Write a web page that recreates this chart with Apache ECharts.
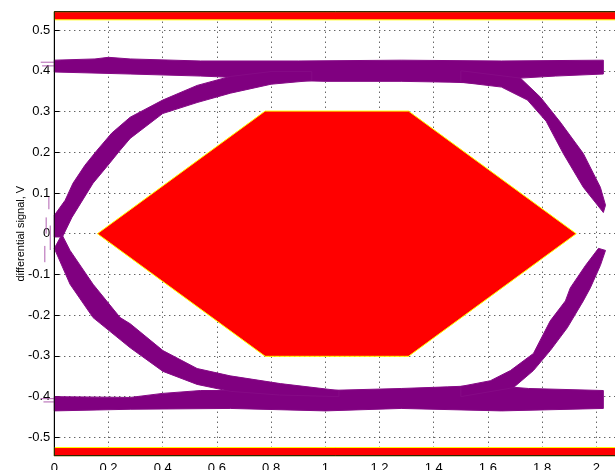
<!DOCTYPE html>
<html>
<head>
<meta charset="utf-8">
<script src="https://cdn.jsdelivr.net/npm/echarts@6/dist/echarts.min.js"></script>
<style>
  html, body { margin: 0; padding: 0; background: #ffffff; }
  #chart { width: 615px; height: 470px; }
</style>
</head>
<body>
<div id="chart"></div>
<script>
// Axis extents
const timeRange = [0, 2.1];
const voltRange = [-0.545, 0.545];

// Eye mask: hexagon in the centre, forbidden bands above/below
const maskLimit = 0.525;
const maskHex = [[0.159, 0], [0.778, 0.301], [1.307, 0.301], [1.926, 0], [1.307, -0.301], [0.778, -0.301]];

// Outlines of the superimposed signal traces (upper edge, then lower edge back)
const highRail = [
  [0, 0.426], [0.15, 0.429], [0.2, 0.433], [0.28, 0.429], [0.54, 0.424], [0.9, 0.424],
  [1.28, 0.426], [1.65, 0.424], [2.026, 0.426],
  [2.026, 0.392], [1.85, 0.387], [1.72, 0.382], [1.6, 0.369], [1.46, 0.372], [1.28, 0.374],
  [1.0, 0.374], [0.83, 0.377], [0.65, 0.384], [0.54, 0.387], [0.28, 0.392], [0, 0.397]
];
const lowRail = [
  [0, -0.400], [0.28, -0.402], [0.40, -0.392], [0.54, -0.385], [1.0, -0.385], [1.28, -0.380],
  [1.45, -0.376], [1.6, -0.372], [1.75, -0.380], [2.026, -0.385],
  [2.026, -0.429], [1.65, -0.435], [1.28, -0.429], [1.0, -0.435], [0.65, -0.429],
  [0.28, -0.431], [0, -0.435]
];
const riseLeft = [
  [0, 0.045], [0.04, 0.082], [0.069, 0.124], [0.113, 0.168], [0.158, 0.205], [0.212, 0.247],
  [0.28, 0.286], [0.40, 0.328], [0.527, 0.364], [0.649, 0.386], [0.80, 0.398], [0.95, 0.398],
  [0.95, 0.376], [0.80, 0.367], [0.65, 0.345], [0.527, 0.322], [0.40, 0.295], [0.28, 0.234],
  [0.243, 0.205], [0.198, 0.168], [0.143, 0.124], [0.065, 0.040], [0.03, -0.008], [0, -0.008]
];
const fallLeft = [
  [0.028, -0.002], [0.058, -0.041], [0.143, -0.124], [0.243, -0.206], [0.28, -0.221],
  [0.401, -0.287], [0.527, -0.331], [0.649, -0.349], [0.834, -0.368], [1.05, -0.385],
  [1.05, -0.400], [0.83, -0.396], [0.649, -0.387], [0.527, -0.370], [0.401, -0.338],
  [0.28, -0.280], [0.143, -0.206], [0.058, -0.124], [0, -0.036]
];
const fallRight = [
  [1.50, 0.400], [1.72, 0.382], [1.794, 0.335], [1.867, 0.274], [1.952, 0.197],
  [2.015, 0.114], [2.034, 0.07],
  [2.026, 0.052], [1.952, 0.114], [1.878, 0.197], [1.815, 0.276], [1.746, 0.328],
  [1.65, 0.360], [1.50, 0.372]
];
const riseRight = [
  [1.50, -0.400], [1.694, -0.378], [1.768, -0.336], [1.83, -0.287], [1.893, -0.231],
  [1.952, -0.165], [1.978, -0.133], [2.015, -0.078], [2.034, -0.041],
  [2.008, -0.036], [1.96, -0.078], [1.904, -0.133], [1.886, -0.165], [1.83, -0.214],
  [1.768, -0.294], [1.683, -0.336], [1.609, -0.361], [1.50, -0.375]
];
const traceBands = [highRail, lowRail, riseLeft, fallLeft, fallRight, riseRight];

// Short trace fragments spilling past the left edge of the axes
const strayTraces = [
  [[-0.05, 0.421], [0, 0.421]],
  [[-0.045, 0.412], [0, 0.412]],
  [[-0.05, -0.405], [0, -0.405]],
  [[-0.04, -0.413], [0, -0.413]],
  [[-0.02, 0.09], [-0.02, 0.06]],
  [[-0.03, 0.04], [-0.03, 0.0]],
  [[-0.035, -0.03], [-0.035, -0.07]],
  [[-0.015, 0.02], [-0.015, -0.04]]
];

const FONT = '"Liberation Sans", Arial, sans-serif';
const chart = echarts.init(document.getElementById('chart'), null, { renderer: 'canvas' });

const dotted = { color: '#222', width: 1, type: [1, 4] };

chart.setOption({
  animation: false,
  backgroundColor: '#ffffff',
  grid: { left: 54.3, top: 11.7, bottom: 14.3, right: -8.4, outerBoundsMode: 'none', containLabel: false },
  xAxis: {
    type: 'value',
    min: timeRange[0], max: timeRange[1], interval: 0.2,
    axisLine: { show: true, onZero: false, lineStyle: { color: '#000', width: 1 } },
    axisTick: { show: true, inside: true, length: 5, lineStyle: { color: '#000' } },
    axisLabel: { color: '#000', fontSize: 13, fontFamily: FONT, margin: 6, showMaxLabel: false },
    splitLine: { show: true, lineStyle: dotted }
  },
  yAxis: {
    type: 'value',
    min: voltRange[0], max: voltRange[1], splitNumber: 10,
    name: 'differential signal, V',
    nameLocation: 'middle', nameGap: 28, nameMoveOverlap: false,
    nameTextStyle: { color: '#000', fontSize: 11, fontFamily: FONT },
    axisLine: { show: true, onZero: false, lineStyle: { color: '#000', width: 1 } },
    axisTick: { show: true, inside: true, length: 5, lineStyle: { color: '#000' } },
    axisLabel: { color: '#000', fontSize: 13, fontFamily: FONT, margin: 4,
                 showMinLabel: false, showMaxLabel: false },
    splitLine: { show: true, lineStyle: dotted }
  },
  series: [
    {
      // superimposed traces
      type: 'custom', silent: true, z: 3,
      data: traceBands.map((b, i) => [b[0][0], b[0][1], i]),
      renderItem: (params, api) => {
        const band = traceBands[params.dataIndex];
        return {
          type: 'polygon',
          shape: { points: band.map(p => api.coord(p)) },
          style: { fill: '#800080', stroke: '#860a86', lineWidth: 1 }
        };
      }
    },
    {
      type: 'custom', silent: true, z: 3, clip: false,
      data: strayTraces.map((s, i) => [s[0][0], s[0][1], i]),
      renderItem: (params, api) => {
        const s = strayTraces[params.dataIndex];
        return {
          type: 'polyline',
          shape: { points: s.map(p => api.coord(p)) },
          style: { stroke: '#b060b0', lineWidth: 1, fill: null }
        };
      }
    },
    {
      // eye mask
      type: 'custom', silent: true, z: 4,
      data: [[0, 0, 0], [0, 0, 1], [0, 0, 2]],
      renderItem: (params, api) => {
        let pts;
        if (params.dataIndex === 0) pts = maskHex;
        else if (params.dataIndex === 1)
          pts = [[timeRange[0], maskLimit], [timeRange[1], maskLimit], [timeRange[1], voltRange[1]], [timeRange[0], voltRange[1]]];
        else
          pts = [[timeRange[0], -maskLimit], [timeRange[1], -maskLimit], [timeRange[1], voltRange[0]], [timeRange[0], voltRange[0]]];
        return {
          type: 'polygon',
          shape: { points: pts.map(p => api.coord(p)) },
          style: { fill: '#ff0000', stroke: '#ffff00', lineWidth: 1 }
        };
      }
    },
    {
      // axes box drawn over the mask
      type: 'custom', silent: true, z: 10,
      data: [[0, 0]],
      renderItem: (params) => {
        const cs = params.coordSys;
        return {
          type: 'rect',
          shape: { x: cs.x, y: cs.y, width: cs.width, height: cs.height },
          style: { fill: null, stroke: '#000', lineWidth: 1 }
        };
      }
    }
  ]
});
</script>
</body>
</html>
